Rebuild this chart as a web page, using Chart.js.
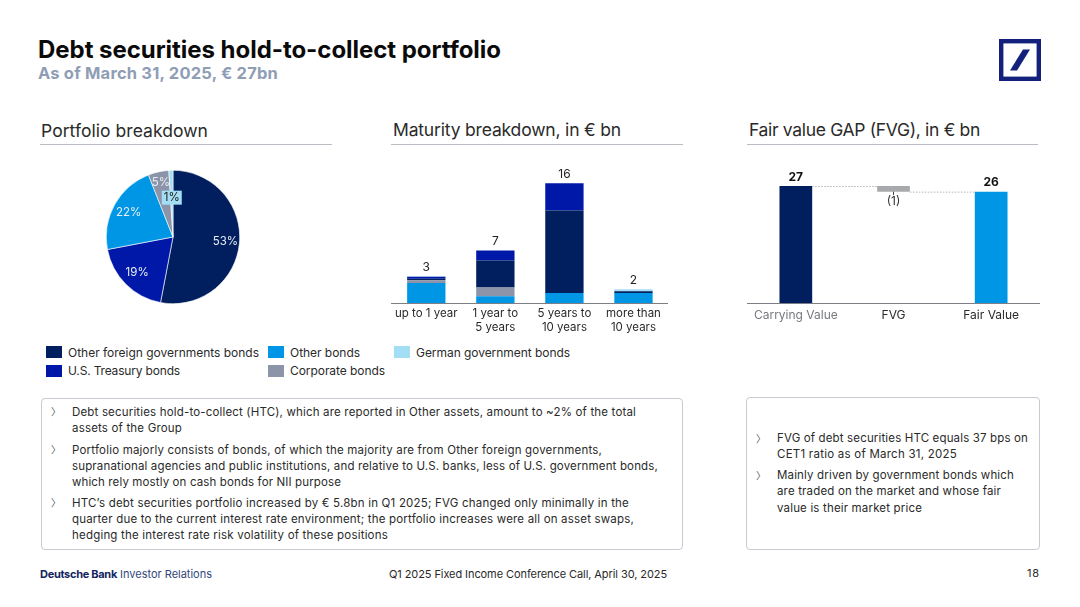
<!DOCTYPE html>
<html><head><meta charset="utf-8">
<script src="https://cdn.jsdelivr.net/npm/chart.js@4"></script>
<style>
html,body{margin:0;padding:0;background:#fff;width:1080px;height:607px;overflow:hidden;font-family:Inter,sans-serif;color:#1f1f1f}
.t{position:absolute;white-space:nowrap;line-height:1}
.rule{position:absolute;height:1px;background:#b9bcc2}
.box{position:absolute;border:1px solid #c6cad1;border-radius:4px;box-sizing:border-box}
.sw{position:absolute;width:16px;height:12px}
canvas{position:absolute}
.cw{position:absolute}
</style></head><body>
<svg style="position:absolute;left:999px;top:39px" width="42" height="42" viewBox="0 0 42 42" role="img" aria-label="Deutsche Bank logo">
<rect x="2.2" y="2.2" width="37.6" height="37.6" fill="#fff" stroke="#13207c" stroke-width="4.4"/>
<polygon points="24,10.5 31,10.5 18,31.5 11,31.5" fill="#13207c"/></svg>
<div class="rule" style="left:40px;top:144px;width:292px"></div>
<div class="rule" style="left:391px;top:144px;width:292px"></div>
<div class="rule" style="left:747px;top:144px;width:291px"></div>
<div class="box" style="left:41px;top:398px;width:642px;height:152px"></div>
<div class="box" style="left:746px;top:397px;width:294px;height:153px"></div>
<div class="cw" style="left:106px;top:170px;width:134px;height:134px"><canvas id="pie"></canvas></div>
<div class="cw" style="left:391px;top:160px;width:277px;height:175px"><canvas id="mat"></canvas></div>
<div class="cw" style="left:747px;top:160px;width:293px;height:175px"><canvas id="fvg"></canvas></div>
<script>
// ---------- data ----------
const pieLabels = ["Other foreign governments bonds","U.S. Treasury bonds","Other bonds","Corporate bonds","German government bonds"];
const pieValues = [53,19,22,5,1];
const maturityCats = [["up to 1 year"],["1 year to","5 years"],["5 years to","10 years"],["more than","10 years"]];
const otherBonds = [2.67,0.89,1.33,1.33];
const corporate = [0.36,1.16,0,0];
const otherForeign = [0.18,3.6,10.95,0.22];
const usTreasury = [0.27,1.33,3.64,0];
const german = [0.09,0,0,0.27];
const maturityTotals = ["3","7","16","2"];
const fvgCats = ["Carrying Value","FVG","Fair Value"];
const fvgValues = [27,[25.7,27],25.7];
const fvgLabels = ["27","(1)","26"];

// ---------- colours ----------
const NAVY="#011f5e",BLUE="#0018a8",SKY="#0096e6",GREY="#8b94a8",PALE="#a3def5";
const pieColors=[NAVY,BLUE,SKY,GREY,PALE];

// ---------- text ----------
const FF="Inter, sans-serif";
const meas=document.createElement("canvas").getContext("2d");
function T(s,x,y,size,w,opt){opt=opt||{};
 const d=document.createElement("div");d.className="t";d.textContent=s;
 const wt=opt.weight||400;
 d.style.cssText=`left:${x}px;top:${y}px;font-size:${size}px;font-weight:${wt};color:${opt.color||"#2a2a2a"}`;
 if(w){meas.font=`${wt} ${size}px ${FF}`;const m=meas.measureText(s).width;
  d.style.letterSpacing=((w-m)/s.length).toFixed(3)+"px";}
 document.body.appendChild(d);return d;}
T("Debt securities hold-to-collect portfolio",38,38,24,463,{weight:700,color:"#0a0a0a"});
T("As of March 31, 2025, € 27bn",38,65,16.5,241,{weight:700,color:"#8f9db5"});
T("Portfolio breakdown",41,122,17.5,167);
T("Maturity breakdown, in € bn",393,121,17.5,228);
T("Fair value GAP (FVG), in € bn",749,121,17.5,231);
// legend
[[46,346,NAVY,68,347,"Other foreign governments bonds",191],
 [46,365,BLUE,68,365,"U.S. Treasury bonds",112],
 [268,346,SKY,290,347,"Other bonds",70],
 [268,365,GREY,290,365,"Corporate bonds",95],
 [394,346,PALE,416,347,"German government bonds",154]].forEach(l=>{
 const s=document.createElement("div");s.className="sw";s.style.left=l[0]+"px";s.style.top=l[1]+"px";s.style.background=l[2];document.body.appendChild(s);
 T(l[5],l[3],l[4],12,l[6]);
});
// bullets
function chev(x,y){const d=T("〉",x,y,10,0,{color:"#555"});d.style.fontFamily="Noto Sans CJK SC";}
[[51,407],[51,445],[51,498],[756,434],[756,471]].forEach(p=>chev(p[0],p[1]));
[["Debt securities hold-to-collect (HTC), which are reported in Other assets, amount to ~2% of the total",72,407,564],
 ["assets of the Group",72,423,110],
 ["Portfolio majorly consists of bonds, of which the majority are from Other foreign governments,",72,445,530],
 ["supranational agencies and public institutions, and relative to U.S. banks, less of U.S. government bonds,",72,461,586],
 ["which rely mostly on cash bonds for NII purpose",72,477,269],
 ["HTC’s debt securities portfolio increased by € 5.8bn in Q1 2025; FVG changed only minimally in the",72,498,557],
 ["quarter due to the current interest rate environment; the portfolio increases were all on asset swaps,",72,514,562],
 ["hedging the interest rate risk volatility of these positions",72,530,316],
 ["FVG of debt securities HTC equals 37 bps on",777,433,251],
 ["CET1 ratio as of March 31, 2025",777,449,180],
 ["Mainly driven by government bonds which",777,470,237],
 ["are traded on the market and whose fair",777,486,224],
 ["value is their market price",777,503,145]].forEach(l=>T(l[0],l[1],l[2],11.5,l[3]));
// footer
T("Deutsche Bank",40,569,11,77,{weight:700,color:"#13265f"});
T("Investor Relations",120,569,11,92,{color:"#33477a"});
T("Q1 2025 Fixed Income Conference Call, April 30, 2025",389,569,11,278);
T("18",1027,568,11,13);

// ---------- charts ----------
Chart.defaults.font.family=FF;
Chart.defaults.animation=false;
Chart.defaults.responsive=true;
Chart.defaults.maintainAspectRatio=false;
Chart.defaults.plugins.legend.display=false;
Chart.defaults.plugins.tooltip.enabled=false;

const pieRadii=[.79,.76,.76,.83,.59];
new Chart(document.getElementById("pie"),{type:"pie",
 data:{labels:pieLabels,datasets:[{data:pieValues,backgroundColor:pieColors,borderColor:"#fff",borderWidth:.6}]},
 options:{layout:{padding:0}},
 plugins:[{id:"pieLabels",afterDatasetsDraw(c){
  const g=c.ctx;g.save();g.font="11.5px "+FF;g.textAlign="center";g.textBaseline="middle";
  c.getDatasetMeta(0).data.forEach((a,i)=>{
   const mid=(a.startAngle+a.endAngle)/2,r=a.outerRadius*pieRadii[i];
   const x=a.x+Math.cos(mid)*r,y=a.y+Math.sin(mid)*r,txt=pieValues[i]+"%";
   if(i===4){g.fillStyle=PALE;g.fillRect(x-10,y-7,20,14);g.fillStyle="#222";}
   else g.fillStyle="#e8eef6";
   g.fillText(txt,x,y);
  });g.restore();}}]});

const fixX=s=>{s.height=32;};
new Chart(document.getElementById("mat"),{type:"bar",
 data:{labels:maturityCats,datasets:[
  {label:pieLabels[2],data:otherBonds,backgroundColor:SKY},
  {label:pieLabels[3],data:corporate,backgroundColor:GREY},
  {label:pieLabels[0],data:otherForeign,backgroundColor:NAVY},
  {label:pieLabels[1],data:usTreasury,backgroundColor:BLUE},
  {label:pieLabels[4],data:german,backgroundColor:PALE}]},
 options:{layout:{padding:0},datasets:{bar:{categoryPercentage:1,barPercentage:.555,borderWidth:0}},
  scales:{x:{stacked:true,afterFit:fixX,grid:{display:false,drawTicks:false},border:{color:"#7d7f84",width:1},
    ticks:{color:"#2a2a2a",font:{size:11.5},padding:4,autoSkip:false,maxRotation:0}},
   y:{stacked:true,display:false,min:0,max:19}}},
 plugins:[{id:"totals",afterDatasetsDraw(c){
  const g=c.ctx;g.save();g.font="12px "+FF;g.fillStyle="#222";g.textAlign="center";g.textBaseline="bottom";
  maturityTotals.forEach((t,i)=>{let sum=0;c.data.datasets.forEach(d=>sum+=d.data[i]);
   g.fillText(t,c.scales.x.getPixelForValue(i),c.scales.y.getPixelForValue(sum)-3);});
  g.restore();}}]});

new Chart(document.getElementById("fvg"),{type:"bar",
 data:{labels:fvgCats,datasets:[{data:fvgValues,backgroundColor:[NAVY,"#a8a9ad",SKY]}]},
 options:{layout:{padding:0},datasets:{bar:{categoryPercentage:1,barPercentage:.335,borderWidth:0}},
  scales:{x:{afterFit:fixX,grid:{display:false,drawTicks:false},border:{color:"#7d7f84",width:1},
    ticks:{color:(k)=>k.index===0?"#77797e":"#2a2a2a",font:{size:12},padding:5,autoSkip:false,maxRotation:0}},
   y:{display:false,min:0,max:33}}},
 plugins:[{id:"fvgDecor",afterDatasetsDraw(c){
  const g=c.ctx,bars=c.getDatasetMeta(0).data,y=c.scales.y;g.save();
  g.strokeStyle="#b5b5b5";g.lineWidth=1;g.setLineDash([1.5,1.5]);
  const y27=y.getPixelForValue(27),y26=y.getPixelForValue(25.7);
  g.beginPath();g.moveTo(bars[0].x+bars[0].width/2,y27+.5);g.lineTo(bars[1].x-bars[1].width/2,y27+.5);
  g.moveTo(bars[1].x+bars[1].width/2,y26+.5);g.lineTo(bars[2].x-bars[2].width/2,y26+.5);g.stroke();
  g.setLineDash([]);g.strokeStyle="#444";g.beginPath();g.moveTo(bars[1].x,y26);g.lineTo(bars[1].x,y26+3.5);g.stroke();
  g.textAlign="center";
  g.font="700 12px "+FF;g.fillStyle="#111";g.textBaseline="bottom";
  g.fillText(fvgLabels[0],bars[0].x,y27-3);g.fillText(fvgLabels[2],bars[2].x,y26-3);
  g.font="12px "+FF;g.fillStyle="#333";g.textBaseline="top";
  g.fillText(fvgLabels[1],bars[1].x,y26+4);
  g.restore();}}]});
</script>
</body></html>
